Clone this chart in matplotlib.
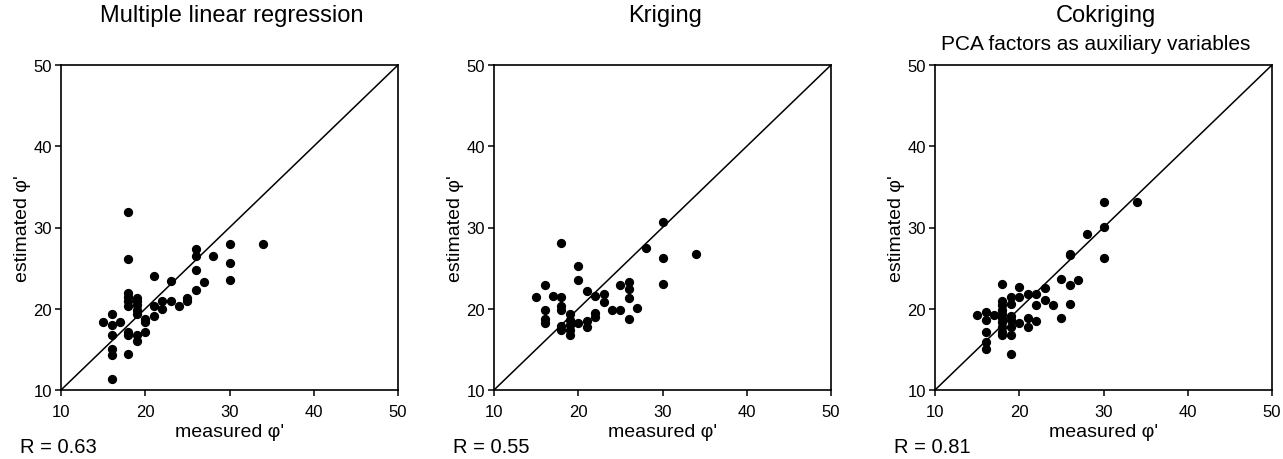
#!/usr/bin/env python3
"""
Estimated vs measured friction angle for three interpolation methods
"""

import matplotlib.pyplot as plt

plt.rcParams['font.family'] = ['Liberation Sans', 'DejaVu Sans']

# Multiple linear regression
mlr_measured = [18, 18, 21, 23, 26, 26, 28, 30, 34, 30, 30, 26, 27, 26, 25, 25,
                24, 23, 22, 22, 21, 21, 20, 20, 20, 18, 18, 18, 18, 19, 19, 19,
                19, 19, 18, 18, 19, 19, 18, 16, 16, 16, 16, 16, 16, 15, 17]
mlr_estimated = [31.9, 26.1, 24.0, 23.4, 27.3, 26.5, 26.5, 28.0, 28.0, 25.6, 23.5,
                 24.8, 23.3, 22.3, 21.3, 21.0, 20.4, 21.0, 21.0, 20.0, 20.4, 19.1,
                 18.8, 18.4, 17.1, 21.9, 21.5, 21.0, 20.4, 21.3, 20.9, 20.5, 19.8,
                 19.4, 17.2, 16.8, 16.8, 16.0, 14.4, 19.3, 18.0, 16.8, 15.1, 14.3,
                 11.3, 18.4, 18.4]

# Kriging
krig_measured = [18, 30, 28, 34, 30, 30, 20, 20, 16, 15, 17, 18, 18, 18, 16, 16,
                 16, 19, 19, 19, 19, 19, 18, 18, 20, 21, 21, 21, 22, 22, 22, 23,
                 23, 24, 25, 25, 26, 26, 26, 26, 27]
krig_estimated = [28.1, 30.7, 27.5, 26.7, 26.2, 23.0, 25.3, 23.6, 22.9, 21.4, 21.6,
                  21.4, 20.3, 19.8, 19.8, 18.8, 18.3, 19.3, 18.6, 18.0, 17.4, 16.8,
                  17.9, 17.4, 18.2, 22.2, 18.5, 17.7, 21.6, 19.5, 19.0, 21.8, 20.8,
                  19.8, 19.8, 22.9, 23.3, 22.4, 21.3, 18.7, 20.1]

# Cokriging (PCA factors)
cok_measured = [30, 34, 30, 30, 28, 26, 26, 25, 27, 26, 26, 25, 24, 23, 23, 22,
                22, 22, 21, 21, 21, 20, 20, 20, 19, 19, 19, 19, 19, 19, 19, 18,
                18, 18, 18, 18, 18, 18, 18, 18, 18, 17, 16, 16, 16, 16, 16, 15]
cok_estimated = [33.1, 33.2, 30.1, 26.2, 29.2, 26.8, 26.6, 23.7, 23.5, 22.9, 20.6,
                 18.9, 20.5, 22.5, 21.1, 21.8, 20.5, 18.5, 21.8, 18.9, 17.8, 22.7,
                 21.4, 18.3, 21.5, 20.6, 19.1, 18.6, 17.8, 16.8, 14.4, 23.0, 21.0,
                 20.5, 19.9, 19.4, 18.9, 18.4, 17.8, 17.2, 16.8, 19.2, 19.6, 18.6,
                 17.2, 15.9, 15.0, 19.2]

titles = ['Multiple linear regression', 'Kriging', 'Cokriging']
subtitles = ['', '', 'PCA factors as auxiliary variables']
r_values = [0.63, 0.55, 0.81]
ticks = [10, 20, 30, 40, 50]


def draw_panel(fig, ax, measured, estimated, title, subtitle, r):
    ax.plot([10, 50], [10, 50], color='black', linewidth=1.1)
    ax.scatter(measured, estimated, s=32, color='black', zorder=3)
    ax.set_xlim(10, 50)
    ax.set_ylim(10, 50)
    ax.set_xticks(ticks)
    ax.set_yticks(ticks)
    ax.tick_params(labelsize=12, length=4, width=1.1, direction='out', pad=2.5)
    ax.tick_params(axis='x', pad=6)
    for sp in ax.spines.values():
        sp.set_linewidth(1.2)
    ax.set_xlabel("measured φ'", fontsize=14, labelpad=3)
    ax.set_ylabel("estimated φ'", fontsize=14, labelpad=2)

    # titles sit at fixed heights in the figure
    pos = ax.get_position()
    cx = (pos.x0 + pos.x1) / 2
    fig.text(cx + 0.002, 1 - 22 / 460, title, ha='center', va='baseline', fontsize=17)
    if subtitle:
        fig.text(cx - 0.006, 1 - 50 / 460, subtitle, ha='center',
                 va='baseline', fontsize=15)
    ax.text(-0.122, -0.173, f'R = {r:.2f}', transform=ax.transAxes,
            ha='left', va='center', fontsize=14.5)


def main():
    fig = plt.figure(figsize=(12.83, 4.6), dpi=100)
    lefts = [61 / 1283, 494 / 1283, 935 / 1283]
    width = 337 / 1283
    data = [(mlr_measured, mlr_estimated),
            (krig_measured, krig_estimated),
            (cok_measured, cok_estimated)]
    for i, (m, e) in enumerate(data):
        ax = fig.add_axes([lefts[i], 69 / 460, width, 325 / 460])
        draw_panel(fig, ax, m, e, titles[i], subtitles[i], r_values[i])
    fig.savefig('out.png', dpi=100)
    plt.close(fig)


if __name__ == '__main__':
    main()
